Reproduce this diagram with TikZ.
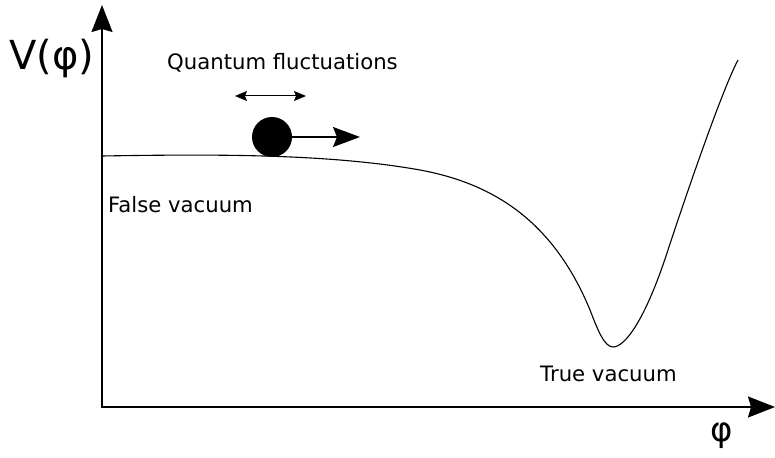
\documentclass[tikz,border=0pt]{standalone}
\usepackage{fontspec}
\setmainfont{DejaVu Sans}
\usetikzlibrary{arrows.meta,positioning,calc}
\tikzset{
 axis/.style={line width=1.8pt, -{Stealth[length=27pt,width=21pt,inset=3pt]}},
 push/.style={line width=1.5pt, -{Stealth[length=27pt,width=20pt,inset=4pt]}},
 jiggle/.style={line width=1pt, {Stealth[length=12pt,width=10pt,inset=2pt]}-{Stealth[length=12pt,width=10pt,inset=2pt]}},
 potential/.style={line width=1.1pt},
 label/.style={font=\fontsize{21.2}{25}\selectfont, anchor=base west, inner sep=0pt}
}

\begin{document}
\begin{tikzpicture}[x=1pt,y=-1pt]
\useasboundingbox (0,0) rectangle (775,457);
% axes
\coordinate (origin) at (102,407);
\coordinate (vtop) at (102,5);
\coordinate (phiend) at (775,407);
\draw[axis] (origin) -- (vtop);
\draw[axis] ([xshift=-1pt]origin) -- (phiend);
\node[font=\fontsize{40}{44}\selectfont, inner sep=0pt] (vlabel) at (52,58) {V(φ)};
\node[font=\fontsize{34}{38}\selectfont, inner sep=0pt] (philabel) at (722,436) {φ};

% the potential
\draw[potential] (102,156) .. controls (220,154) and (330,154) .. (420,170)
 .. controls (490,183) and (552,218) .. (590,310)
 .. controls (597,328) and (604,347) .. (613,347)
 .. controls (625,347) and (645,320) .. (667,253)
 .. controls (685,198) and (722,90) .. (738,60);

% the field sitting in the false vacuum
\node[circle, fill=black, minimum size=40pt, inner sep=0pt] (ball) at (272,137) {};
\coordinate (pushend) at (360,137);
\draw[push] (ball.east) -- (pushend);
\coordinate (jigleft) at (235,96);
\coordinate (jigright) at (306,96);
\draw[jiggle] (jigleft) -- (jigright);

% labels
\node[label] (quantum) at (167,70) {Quantum fluctuations};
\node[label] (falsevac) at (108,212) {False vacuum};
\node[label] (truevac) at (540,381) {True vacuum};
\end{tikzpicture}
\end{document}
